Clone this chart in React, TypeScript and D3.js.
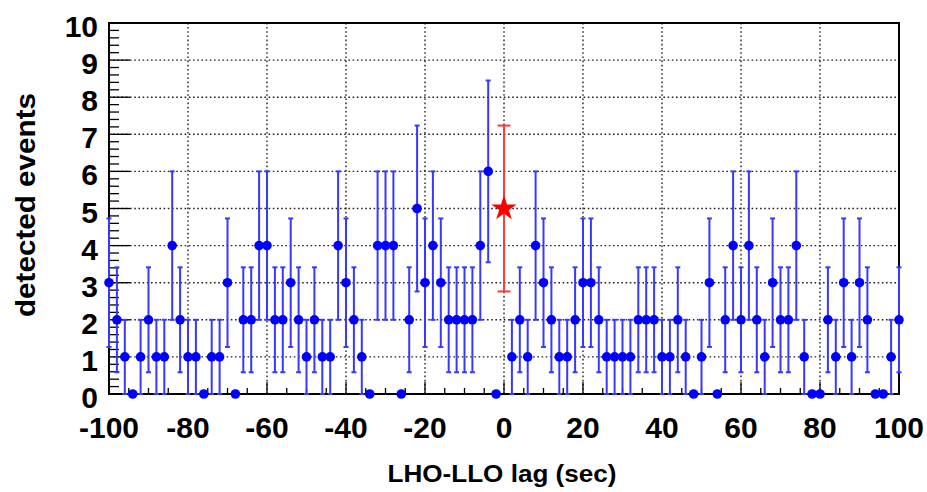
import React from 'react';
import * as d3 from 'd3';

// time lags (sec) of the background samples, zero lag is drawn separately
const lags = [
  -100, -98, -96, -94, -92, -90, -88, -86, -84, -82,
  -80, -78, -76, -74, -72, -70, -68, -66, -64, -62,
  -60, -58, -56, -54, -52, -50, -48, -46, -44, -42,
  -40, -38, -36, -34, -32, -30, -28, -26, -24, -22,
  -20, -18, -16, -14, -12, -10, -8, -6, -4, -2,
  2, 4, 6, 8, 10, 12, 14, 16, 18, 20,
  22, 24, 26, 28, 30, 32, 34, 36, 38, 40,
  42, 44, 46, 48, 50, 52, 54, 56, 58, 60,
  62, 64, 66, 68, 70, 72, 74, 76, 78, 80,
  82, 84, 86, 88, 90, 92, 94, 96, 98, 100,
];

const counts = [
  3, 2, 1, 0, 1, 2, 1, 1, 4, 2,
  1, 1, 0, 1, 1, 3, 0, 2, 2, 4,
  4, 2, 2, 3, 2, 1, 2, 1, 1, 4,
  3, 2, 1, 0, 4, 4, 4, 0, 2, 5,
  3, 4, 3, 2, 2, 2, 2, 4, 6, 0,
  1, 2, 1, 4, 3, 2, 1, 1, 2, 3,
  3, 2, 1, 1, 1, 1, 2, 2, 2, 1,
  1, 2, 1, 0, 1, 3, 0, 2, 4, 2,
  4, 2, 1, 3, 2, 2, 4, 1, 0, 0,
  2, 1, 3, 1, 3, 2, 0, 0, 1, 2,
];

const zeroLag = 0;
const zeroLagCount = 5;

const xTicks = [-100, -80, -60, -40, -20, 0, 20, 40, 60, 80, 100];
const yTicks = [0, 1, 2, 3, 4, 5, 6, 7, 8, 9, 10];

const W = 927;
const H = 492;
const left = 109;
const right = 899;
const top = 23;
const bottom = 394;
const font = "'Liberation Sans', Arial, Helvetica, sans-serif";

const App = () => {
  const x = d3.scaleLinear().domain([-100, 100]).range([left, right]);
  const y = d3.scaleLinear().domain([0, 10]).range([bottom, top]);

  const xMinor = d3.range(-100, 100.01, 5).filter(v => !xTicks.includes(v));
  const yMinor = d3.range(0, 10.001, 0.2).filter(v => Math.abs(v - Math.round(v)) > 1e-6);

  const star = d3.symbol().type(d3.symbolStar).size(200)();

  const errBar = (lag: number, n: number, color: string, cap: number, key: string) => {
    if (n === 0) return null;
    const e = Math.sqrt(n);
    const lo = Math.max(0, n - e);
    const hi = n + e;
    const cx = x(lag);
    return (
      <g key={key} stroke={color} strokeWidth={2}>
        <line x1={cx} x2={cx} y1={y(lo)} y2={y(hi)} />
        <line x1={cx - cap} x2={cx + cap} y1={y(hi)} y2={y(hi)} />
        <line x1={cx - cap} x2={cx + cap} y1={y(lo)} y2={y(lo)} />
      </g>
    );
  };

  return (
    <svg width={W} height={H} style={{ position: 'absolute', left: 0, top: 0, background: '#fff' }}>
      {/* grid */}
      <g stroke="#222" strokeWidth={1.4} strokeDasharray="1.6 2.6">
        {xTicks.slice(1, -1).map(v => (
          <line key={'gx' + v} x1={x(v)} x2={x(v)} y1={bottom} y2={top} />
        ))}
        {yTicks.slice(1, -1).map(v => (
          <line key={'gy' + v} x1={left} x2={right} y1={y(v)} y2={y(v)} />
        ))}
      </g>

      {/* ticks */}
      <g stroke="#000" strokeWidth={1.3}>
        {xTicks.map(v => (
          <line key={'tx' + v} x1={x(v)} x2={x(v)} y1={bottom} y2={bottom - 12} />
        ))}
        {xMinor.map(v => (
          <line key={'mx' + v} x1={x(v)} x2={x(v)} y1={bottom} y2={bottom - 6} />
        ))}
        {yTicks.map(v => (
          <line key={'ty' + v} x1={left} x2={left + 21} y1={y(v)} y2={y(v)} />
        ))}
        {yMinor.map(v => (
          <line key={'my' + v} x1={left} x2={left + 10} y1={y(v)} y2={y(v)} />
        ))}
      </g>

      {/* frame */}
      <rect x={left} y={top} width={right - left} height={bottom - top} fill="none" stroke="#000" strokeWidth={2} />

      {/* tick labels */}
      <g fontFamily={font} fontWeight="bold" fontSize={30} fill="#000">
        {xTicks.map(v => (
          <text key={'lx' + v} x={x(v)} y={438} textAnchor="middle">{v}</text>
        ))}
        {yTicks.map(v => (
          <text key={'ly' + v} x={98} y={y(v) + 14} textAnchor="end">{v}</text>
        ))}
      </g>

      {/* axis titles */}
      <text x={502} y={482} textAnchor="middle" fontFamily={font} fontWeight="bold" fontSize={23}
        textLength={229} lengthAdjust="spacingAndGlyphs">LHO-LLO lag (sec)</text>
      <text transform="translate(35,205) rotate(-90)" textAnchor="middle" fontFamily={font} fontWeight="bold"
        fontSize={27} textLength={224} lengthAdjust="spacingAndGlyphs">detected events</text>

      {/* background lags */}
      {lags.map((l, i) => errBar(l, counts[i], '#3838ff', 2.5, 'e' + l))}
      {lags.map((l, i) => (
        <circle key={'p' + l} cx={x(l)} cy={y(counts[i])} r={4.8} fill="#0000ff" />
      ))}

      {/* zero lag */}
      {errBar(zeroLag, zeroLagCount, '#ff3838', 6.5, 'zero')}
      <path d={star} transform={`translate(${x(zeroLag)},${y(zeroLagCount)})`} fill="#ff0000" />
    </svg>
  );
};

export default App;
